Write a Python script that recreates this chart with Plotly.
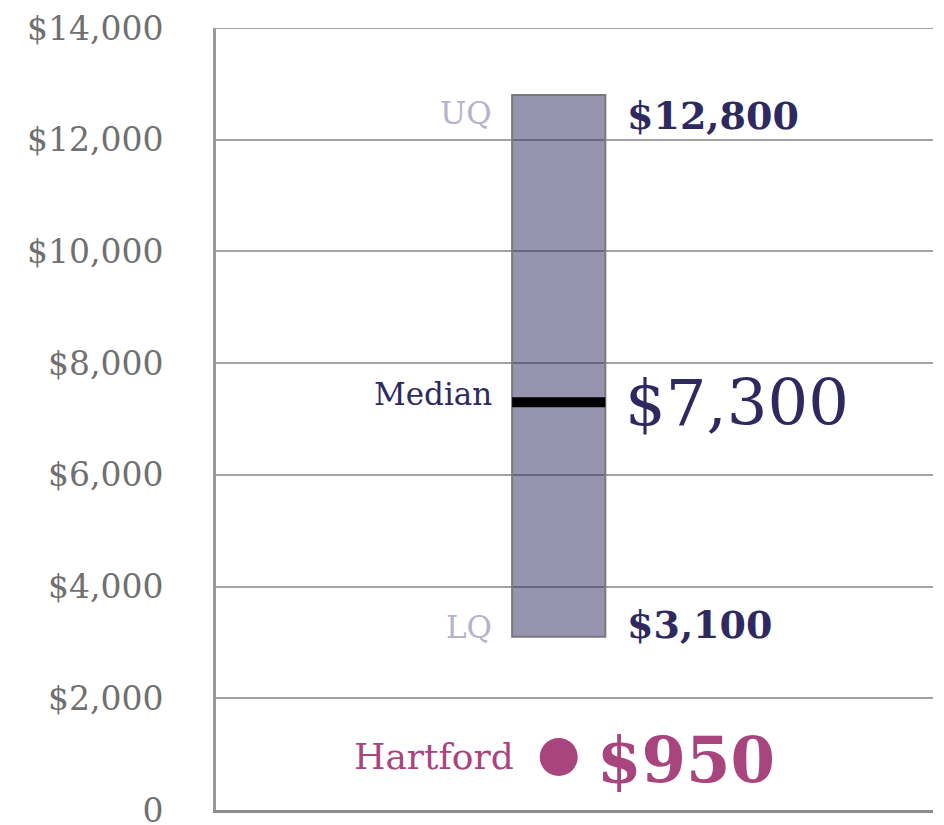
import plotly.graph_objects as go

# Distribution summary (annual cost, USD)
lower_quartile = 3100
median = 7300
upper_quartile = 12800
city_name = "Hartford"
city_value = 950

tick_values = [0, 2000, 4000, 6000, 8000, 10000, 12000, 14000]
tick_labels = ["0", "$2,000", "$4,000", "$6,000", "$8,000", "$10,000", "$12,000", "$14,000"]

box_center = 0.478
box_width = 0.13

NAVY = "#2e2a60"
LAVENDER = "#b5b2cc"
MAGENTA = "#a8457e"
GRID = "#a3a3a3"
FONT = "DejaVu Serif"

fig = go.Figure()

# Interquartile box
fig.add_trace(go.Bar(
    x=[box_center], y=[upper_quartile - lower_quartile], base=[lower_quartile],
    width=box_width,
    marker=dict(color="rgba(46,42,96,0.5)", line=dict(color="#7a7a7a", width=2)),
    hoverinfo="skip",
))

# Median bar
fig.add_trace(go.Scatter(
    x=[box_center - box_width / 2, box_center + box_width / 2], y=[median, median],
    mode="lines", line=dict(color="black", width=10), hoverinfo="skip",
))

# City marker
fig.add_trace(go.Scatter(
    x=[box_center], y=[city_value], mode="markers",
    marker=dict(color=MAGENTA, size=38), hoverinfo="skip",
))

# Top gridline at the upper edge of the axis range
fig.add_shape(type="line", xref="paper", yref="y", x0=0, x1=1,
              y0=tick_values[-1], y1=tick_values[-1],
              line=dict(color=GRID, width=2), layer="below")

left_x = box_center - box_width / 2
right_x = box_center + box_width / 2

def note(x, y, text, size, color, anchor, xshift, yshift):
    fig.add_annotation(
        x=x, y=y, xref="x", yref="y", text=text, showarrow=False,
        xanchor=anchor, yanchor="middle", xshift=xshift, yshift=yshift,
        font=dict(family=FONT, size=size, color=color),
    )

note(left_x, upper_quartile, "UQ", 31, LAVENDER, "right", -18, -18)
note(right_x, upper_quartile, f"<b>${upper_quartile:,}</b>", 38, NAVY, "left", 20, -20)
note(left_x, median, "Median", 31, NAVY, "right", -18, 8)
note(right_x, median, f"${median:,}", 64, NAVY, "left", 18, -1)
note(left_x, lower_quartile, "LQ", 31, LAVENDER, "right", -18, 10)
note(right_x, lower_quartile, f"<b>${lower_quartile:,}</b>", 38, NAVY, "left", 20, 12)
note(box_center, city_value, city_name, 36, MAGENTA, "right", -43, 0)
note(box_center, city_value, f"<b>${city_value:,}</b>", 64, MAGENTA, "left", 36, -3)

fig.update_layout(
    width=944, height=825,
    margin=dict(l=216, r=11, t=28, b=15),
    plot_bgcolor="white", paper_bgcolor="white",
    showlegend=False,
    xaxis=dict(range=[0, 1], showgrid=False, zeroline=False, showticklabels=False,
               showline=True, linecolor="#8c8c8c", linewidth=3, fixedrange=True,
               automargin=False),
    yaxis=dict(range=[0, 14000], tickvals=tick_values, ticktext=tick_labels,
               showgrid=True, gridcolor=GRID, gridwidth=2, zeroline=False,
               showline=True, linecolor="#9a9a9a", linewidth=3,
               ticks="outside", ticklen=0, ticklabelstandoff=43,
               ticklabeloverflow="allow", automargin=False,
               tickfont=dict(family=FONT, size=33, color="#707070")),
)

fig.write_html("out.html")
